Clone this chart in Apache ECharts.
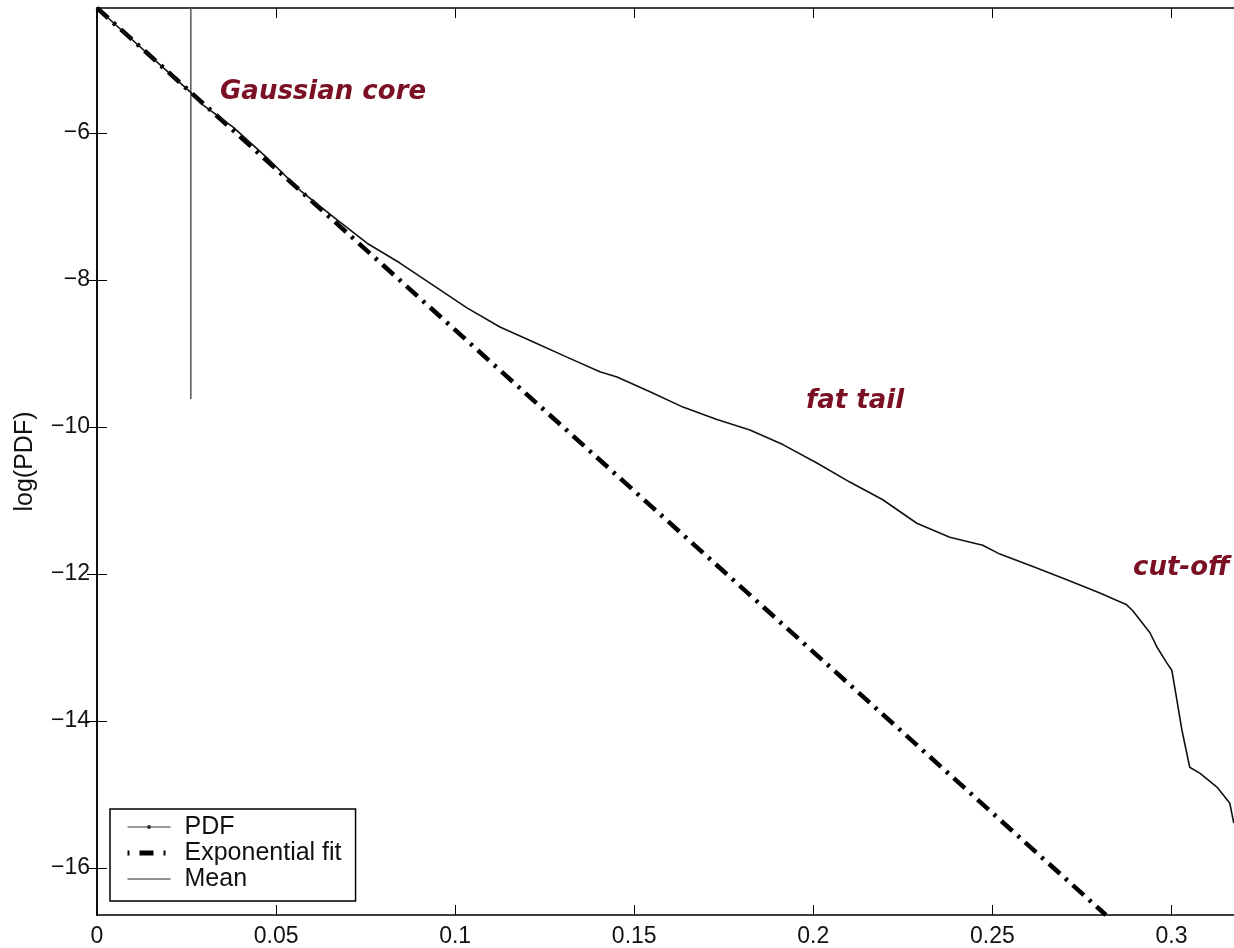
<!DOCTYPE html>
<html>
<head>
<meta charset="utf-8">
<script src="https://cdn.jsdelivr.net/npm/echarts@6/dist/echarts.min.js"></script>
<style>
  html, body { margin: 0; padding: 0; background: #fff; }
  #main { width: 1234px; height: 948px; }
</style>
</head>
<body>
<div id="main"></div>
<script>
// x ticks and y ticks
var xTicks = [0, 0.05, 0.1, 0.15, 0.2, 0.25, 0.3];
var yTicks = [-16, -14, -12, -10, -8, -6];

// log(PDF) curve
var pdfX = [0, 0.0260, 0.0288, 0.0380, 0.0475, 0.0567, 0.0659, 0.0754, 0.0846, 0.0938, 0.1033,
  0.1125, 0.1217, 0.1312, 0.1404, 0.1452, 0.1544, 0.1636, 0.1731, 0.1823, 0.1915, 0.2010,
  0.2102, 0.2194, 0.2289, 0.2381, 0.2473, 0.2521, 0.2613, 0.2708, 0.2800, 0.2875, 0.2892,
  0.2940, 0.2959, 0.2987, 0.3001, 0.3015, 0.3029, 0.3051, 0.3079, 0.3127, 0.3163, 0.3174];
var pdfY = [-4.30, -5.44, -5.59, -5.92, -6.34, -6.78, -7.14, -7.50, -7.77, -8.07, -8.38,
  -8.64, -8.84, -9.05, -9.25, -9.32, -9.52, -9.73, -9.90, -10.04, -10.24, -10.49,
  -10.75, -10.99, -11.31, -11.50, -11.61, -11.73, -11.90, -12.08, -12.26, -12.42, -12.50,
  -12.80, -12.99, -13.21, -13.31, -13.71, -14.12, -14.63, -14.71, -14.90, -15.12, -15.39];

// exponential fit (straight line in log space)
var fitX = [0, 0.2817];
var fitY = [-4.30, -16.64];

// mean marker
var meanX = [0.0262, 0.0262];
var meanY = [-4.30, -9.62];

function zip(a, b) { return a.map(function (v, i) { return [v, b[i]]; }); }

var chart = echarts.init(document.getElementById('main'));
var labelFont = { fontFamily: 'Liberation Sans', fontSize: 23, color: '#111' };
var ann = { fontFamily: 'DejaVu Sans', fontStyle: 'italic', fontWeight: 'bold', fontSize: 26, fill: '#7b1024' };

var option = {
  backgroundColor: '#fff',
  animation: false,
  grid: { left: 97, top: 8, width: 1140, height: 907, outerBoundsMode: 'none' },
  xAxis: [
    {
      type: 'value', min: 0, max: 0.3183, position: 'bottom',
      axisLine: { lineStyle: { color: '#000', width: 1.5 } },
      axisTick: { inside: true, length: 10, customValues: xTicks, lineStyle: { color: '#000' } },
      axisLabel: { customValues: xTicks, margin: 10, formatter: function (v) { return String(v); }, ...labelFont },
      splitLine: { show: false }
    },
    {
      type: 'value', min: 0, max: 0.3183, position: 'top',
      axisLine: { lineStyle: { color: '#000', width: 1.5 } },
      axisTick: { inside: true, length: 10, customValues: xTicks, lineStyle: { color: '#000' } },
      axisLabel: { show: false },
      splitLine: { show: false }
    }
  ],
  yAxis: [
    {
      type: 'value', min: -16.64, max: -4.30, position: 'left',
      name: 'log(PDF)', nameLocation: 'middle', nameGap: 59, nameRotate: 90,
      nameTextStyle: { fontFamily: 'Liberation Sans', fontSize: 25, color: '#111' },
      axisLine: { lineStyle: { color: '#000', width: 1.5 } },
      axisTick: { inside: true, length: 10, customValues: yTicks, lineStyle: { color: '#000' } },
      axisLabel: { customValues: yTicks, margin: 7, formatter: function (v) { return String(v).replace('-', '\u2212'); }, ...labelFont },
      splitLine: { show: false }
    },
    {
      type: 'value', min: -16.64, max: -4.30, position: 'right',
      axisLine: { lineStyle: { color: '#000', width: 1.5 } },
      axisTick: { inside: true, length: 10, customValues: yTicks, lineStyle: { color: '#000' } },
      axisLabel: { show: false },
      splitLine: { show: false }
    }
  ],
  legend: {
    orient: 'vertical', left: 110, top: 809,
    backgroundColor: '#fff', borderColor: '#000', borderWidth: 1.5, borderRadius: 0,
    padding: [5, 14, 9, 15], itemWidth: 43, itemHeight: 5, itemGap: 0,
    textStyle: { fontFamily: 'Liberation Sans', fontSize: 25, lineHeight: 26, color: '#111', padding: [0, 0, 0, 9] },
    data: [
      { name: 'PDF', itemStyle: { color: '#333' }, lineStyle: { color: '#333', width: 1.2 } },
      { name: 'Exponential fit', itemStyle: { opacity: 0 }, lineStyle: { color: '#000', width: 5, type: [2, 10, 14, 10] } },
      { name: 'Mean', itemStyle: { opacity: 0 }, lineStyle: { color: '#222', width: 1.2 } }
    ]
  },
  series: [
    {
      name: 'PDF', type: 'line', data: zip(pdfX, pdfY),
      symbol: 'circle', symbolSize: 3, showSymbol: false,
      itemStyle: { color: '#111' },
      lineStyle: { color: '#111', width: 1.6 }, z: 3
    },
    {
      name: 'Exponential fit', type: 'line', data: zip(fitX, fitY),
      symbol: 'none', itemStyle: { color: '#000' },
      lineStyle: { color: '#000', width: 4.5, type: [15, 7, 3, 7] }, z: 2
    },
    {
      name: 'Mean', type: 'line', data: zip(meanX, meanY),
      symbol: 'none', itemStyle: { color: '#444' },
      lineStyle: { color: '#555', width: 1.5 }, z: 1
    }
  ],
  graphic: [
    { type: 'text', left: 220, top: 79, style: Object.assign({ text: 'Gaussian core' }, ann) },
    { type: 'text', left: 806, top: 388, style: Object.assign({ text: 'fat tail' }, ann) },
    { type: 'text', left: 1133, top: 555, style: Object.assign({ text: 'cut-off' }, ann) }
  ]
};
chart.setOption(option);
window.onresize = function () { chart.resize(); };
</script>
</body>
</html>
